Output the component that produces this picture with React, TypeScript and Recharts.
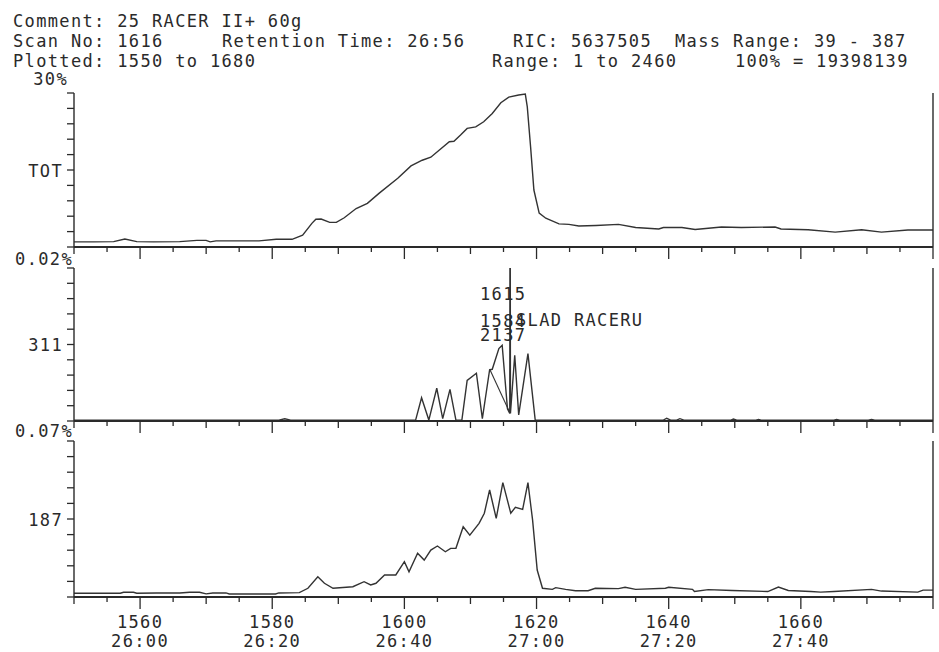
import React from "react"
import { LineChart, Line, XAxis, YAxis } from "recharts"

const FONT = "'DejaVu Sans Mono', 'Liberation Mono', monospace"
const INK = "#2a2a2a"

// x-axis labels: scan number and retention time
const labelScans = [1560, 1580, 1600, 1620, 1640, 1660]
const labelTimes = ["26:00", "26:20", "26:40", "27:00", "27:20", "27:40"]

// TOT trace (% of full scale, full scale = 30%)
const totScans = [
  1550, 1553, 1556, 1557.7, 1559.5, 1562, 1566, 1568.6, 1570, 1570.6, 1571.5, 1578, 1580.6, 1583,
  1584.6, 1586, 1586.6, 1587.4, 1588.7, 1589.7, 1590.9, 1592.7, 1594.4, 1596.2, 1599, 1601, 1602.7,
  1604, 1605.3, 1606.8, 1607.5, 1608.5, 1609.5, 1610.8, 1612, 1613.3, 1614.6, 1615.8, 1617.3, 1618.3,
  1618.6, 1619.1, 1619.6, 1620.4, 1621.4, 1623.4, 1624.9, 1626.4, 1629, 1632.4, 1635, 1638.5, 1639.2,
  1642, 1644, 1648, 1651, 1656.1, 1657, 1661.1, 1665.2, 1669.2, 1672.2, 1676.2, 1680,
]
const totValues = [
  1.0, 1.0, 1.05, 1.55, 1.05, 1.0, 1.05, 1.3, 1.3, 1.0, 1.2, 1.2, 1.5, 1.5,
  2.3, 4.6, 5.4, 5.45, 4.8, 4.8, 5.7, 7.5, 8.5, 10.5, 13.4, 15.8, 16.9,
  17.5, 18.9, 20.5, 20.6, 21.8, 23.1, 23.4, 24.4, 26.0, 28.1, 29.2, 29.6, 29.8,
  27.3, 19.5, 11.1, 6.6, 5.6, 4.5, 4.4, 4.1, 4.2, 4.4, 3.8, 3.5, 3.8,
  3.8, 3.4, 3.9, 3.8, 3.9, 3.5, 3.35, 2.9, 3.35, 2.9, 3.3, 3.3,
]

// m/z 311 trace (% of panel)
const m311Scans = [
  1550, 1581, 1581.9, 1582.8, 1601.7, 1602.6, 1603.7, 1604.9, 1605.8, 1606.9, 1607.8, 1608.7,
  1609.5, 1610.9, 1611.8, 1612.9, 1613.3, 1614.3, 1614.8, 1615.6, 1615.95, 1616, 1616.05, 1616.7,
  1617.3, 1618.7, 1619.8, 1639.2, 1639.7, 1640.3, 1641.2, 1641.7, 1642.3, 1649.4, 1649.8, 1650.3,
  1653.2, 1653.6, 1654, 1665, 1665.4, 1665.9, 1670.2, 1670.7, 1671.2, 1680,
]
const m311Values = [
  0.6, 0.6, 1.5, 0.6, 0.6, 15.2, 0.6, 21.4, 1.5, 20.7, 0.6, 0.6,
  26.5, 31.2, 1.5, 33.5, 33.8, 47.3, 49.5, 8, 5, 200, 5, 43,
  4, 44, 0.6, 0.6, 1.8, 0.6, 0.6, 1.5, 0.6, 0.6, 1.3, 0.6,
  0.6, 1.0, 0.6, 0.6, 1.0, 0.6, 0.6, 1.0, 0.6, 0.6,
]
const m311OverlayScans = [1612.9, 1616]
const m311OverlayValues = [34, 5]

// m/z 187 trace (% of panel)
const m187Scans = [
  1550, 1557, 1557.5, 1559, 1559.5, 1562.5, 1566, 1567.5, 1569, 1570, 1571, 1573, 1573.5, 1580.5,
  1581, 1584.1, 1585.4, 1586.9, 1587.9, 1589.2, 1592.2, 1593.9, 1594.9, 1595.7, 1597, 1598.7, 1600,
  1600.7, 1602, 1603, 1604, 1605, 1606.2, 1607, 1607.8, 1608.9, 1609.9, 1611.3, 1612.1, 1612.9,
  1613.9, 1614.9, 1616.1, 1616.8, 1617.9, 1618.7, 1619.4, 1620.1, 1620.9, 1622.4, 1622.9, 1624.4,
  1625.9, 1627.8, 1628.9, 1632.4, 1633.4, 1635, 1639.5, 1640, 1643.6, 1643.9, 1646, 1649.6, 1655,
  1656.6, 1658.1, 1661.5, 1663, 1665, 1670.7, 1672.2, 1677.7, 1678.5, 1680,
]
const m187Values = [
  2.4, 2.4, 3.0, 3.0, 2.4, 2.6, 2.6, 3.0, 3.0, 2.0, 2.6, 2.6, 1.9, 1.9,
  2.6, 2.8, 5.6, 13, 8.8, 5.6, 6.6, 9.8, 7.7, 8.8, 14.1, 14.1, 22.6,
  16.2, 28, 23.7, 30.1, 32.7, 29, 31.2, 31.2, 45, 39.7, 47.2, 53.7, 68.6,
  50.4, 73.3, 53.7, 57.5, 56.2, 73.3, 49.4, 17.3, 5.6, 4.9, 6, 4.9,
  4, 4, 5.6, 5.4, 6.2, 4.9, 5.6, 6.2, 4.9, 3.5, 4.7, 4.2, 3.5,
  6.4, 4.2, 3.5, 3.1, 3.5, 4.9, 3.8, 3.1, 4.4, 4.4,
]

const zip = (s: number[], v: number[]) => s.map((scan, i) => ({ scan, v: v[i] }))

const xTicks: number[] = []
for (let s = 1550; s <= 1680; s += 5) xTicks.push(s)

const txt = { fontFamily: FONT, fontSize: 17, fill: INK, letterSpacing: "1.35px" } as const

// eslint-disable-next-line @typescript-eslint/no-explicit-any
const XTick = ({ x, y, payload, showLabels }: any) => {
  const v = payload.value
  const len = v % 20 === 0 ? 12 : v % 10 === 0 ? 7 : 5
  const i = labelScans.indexOf(v)
  return (
    <g>
      <line x1={x} x2={x} y1={y} y2={y + len} stroke={INK} strokeWidth={1.3} />
      {showLabels && i >= 0 && (
        <>
          <text x={x} y={y + 31} textAnchor="middle" style={txt}>{v}</text>
          <text x={x} y={y + 50} textAnchor="middle" style={txt}>{labelTimes[i]}</text>
        </>
      )}
    </g>
  )
}

interface PanelProps {
  data: { scan: number; v: number }[]
  overlay?: { scan: number; v: number }[]
  max: number
  midLabel: string
  top: number
  marginTop: number
  plotHeight: number
  axisHeight: number
  showLabels?: boolean
}

function Panel({ data, overlay, max, midLabel, top, marginTop, plotHeight, axisHeight, showLabels }: PanelProps) {
  const yTicks = Array.from({ length: 11 }, (_, i) => (i * max) / 10)
  const mid = max / 2
  const height = marginTop + plotHeight + axisHeight
  return (
    <div style={{ position: "absolute", left: 0, top, width: 939, height }}>
      <LineChart width={939} height={height} data={data} margin={{ top: marginTop, right: 0, bottom: 0, left: 0 }}>
        <XAxis
          type="number"
          dataKey="scan"
          domain={[1550, 1680]}
          ticks={xTicks}
          interval={0}
          allowDataOverflow
          height={axisHeight}
          tickSize={0}
          tickMargin={0}
          tickLine={false}
          axisLine={{ stroke: INK, strokeWidth: 1.8 }}
          tick={(p) => <XTick {...p} showLabels={showLabels} />}
        />
        <YAxis
          yAxisId="l"
          type="number"
          domain={[0, max]}
          ticks={yTicks}
          interval={0}
          allowDataOverflow
          width={74}
          tickSize={0}
          tickMargin={0}
          tickLine={false}
          axisLine={{ stroke: INK, strokeWidth: 1.4 }}
          // eslint-disable-next-line @typescript-eslint/no-explicit-any
          tick={({ x, y, payload }: any) => (
            <g>
              <line x1={x - 7} x2={x} y1={y} y2={y} stroke={INK} strokeWidth={1.3} />
              {Math.abs(payload.value - mid) < 1e-6 && (
                <text x={x - 11} y={y + 6.5} textAnchor="end" style={txt}>{midLabel}</text>
              )}
            </g>
          )}
        />
        <YAxis
          yAxisId="r"
          orientation="right"
          type="number"
          domain={[0, max]}
          ticks={yTicks}
          interval={0}
          width={6}
          tickSize={0}
          tickMargin={0}
          tickLine={false}
          axisLine={{ stroke: INK, strokeWidth: 1.4 }}
          // eslint-disable-next-line @typescript-eslint/no-explicit-any
          tick={({ x, y }: any) => <line x1={x} x2={x + 5} y1={y} y2={y} stroke={INK} strokeWidth={1.3} />}
        />
        <Line yAxisId="l" type="linear" dataKey="v" stroke="#333" strokeWidth={1.4} dot={false} isAnimationActive={false} />
        {overlay && (
          <Line yAxisId="l" data={overlay} type="linear" dataKey="v" stroke="#333" strokeWidth={1.1} dot={false} isAnimationActive={false} />
        )}
      </LineChart>
    </div>
  )
}

export default function App() {
  return (
    <div style={{ position: "absolute", left: 0, top: 0, width: 939, height: 652, background: "#fff", overflow: "hidden" }}>
      <Panel data={zip(totScans, totValues)} max={30} midLabel="TOT" top={80} marginTop={13} plotHeight={154} axisHeight={15} />
      <Panel
        data={zip(m311Scans, m311Values)}
        overlay={zip(m311OverlayScans, m311OverlayValues)}
        max={100}
        midLabel="311"
        top={262}
        marginTop={6}
        plotHeight={153}
        axisHeight={15}
      />
      <Panel data={zip(m187Scans, m187Values)} max={100} midLabel="187" top={436} marginTop={5} plotHeight={156} axisHeight={55} showLabels />
      <svg width={939} height={652} style={{ position: "absolute", left: 0, top: 0, pointerEvents: "none" }}>
        <text x={13} y={27} style={txt}>Comment: 25 RACER II+ 60g</text>
        <text x={13} y={47} style={txt}>Scan No: 1616</text>
        <text x={222} y={47} style={txt}>Retention Time: 26:56</text>
        <text x={513} y={47} style={txt}>RIC: 5637505</text>
        <text x={675} y={47} style={txt}>Mass Range: 39 - 387</text>
        <text x={13} y={67} style={txt}>Plotted: 1550 to 1680</text>
        <text x={492} y={67} style={txt}>Range: 1 to 2460</text>
        <text x={735} y={67} style={txt}>100% = 19398139</text>
        <text x={68} y={85} textAnchor="end" style={txt}>30%</text>
        <text x={73} y={265} textAnchor="end" style={txt}>0.02%</text>
        <text x={73} y={437} textAnchor="end" style={txt}>0.07%</text>
        <text x={480} y={300} style={txt}>1615</text>
        <text x={480} y={327} style={txt}>1584</text>
        <text x={516} y={326} style={txt}>SLAD RACERU</text>
        <text x={480} y={341} style={txt}>2137</text>
      </svg>
    </div>
  )
}
